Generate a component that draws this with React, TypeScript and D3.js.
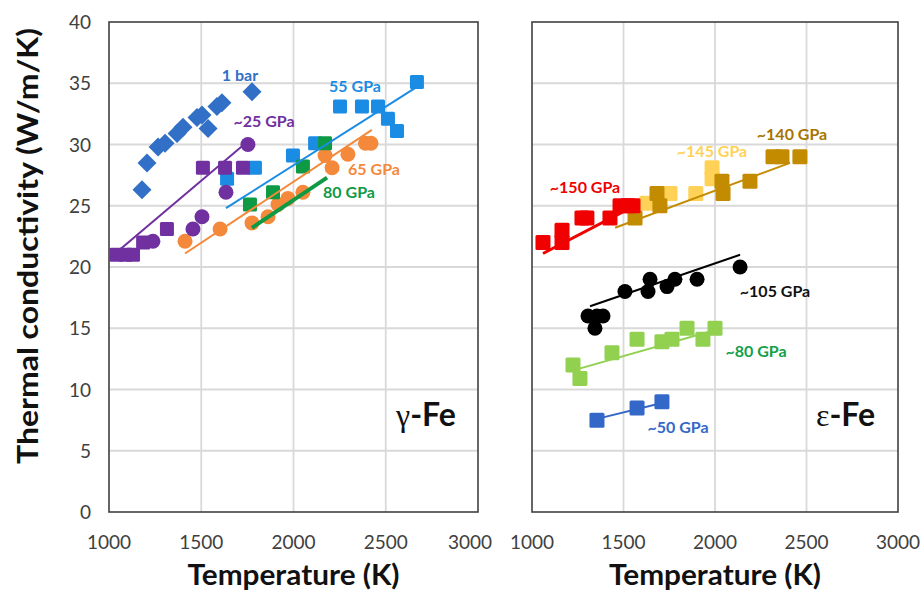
import React from 'react';
import * as d3 from 'd3';

// ---- data (T in K, conductivity in W/m/K) ----
const xTicks = [1000, 1500, 2000, 2500, 3000];
const yTicks = [0, 5, 10, 15, 20, 25, 30, 35, 40];

// gamma-Fe
const oneBar: [number, number][] = [
  [1179, 26.3], [1206, 28.5], [1266, 29.8], [1304, 30.1], [1369, 30.9], [1401, 31.4],
  [1477, 32.2], [1504, 32.4], [1537, 31.3], [1585, 33.1], [1612, 33.4], [1775, 34.3],
];
const gpa25Sq: [number, number][] = [
  [1040, 21], [1090, 21], [1130, 21], [1185, 22], [1314, 23.1],
  [1509, 28.1], [1629, 28.1], [1726, 28.1],
];
const gpa25Ci: [number, number][] = [
  [1238, 22.1], [1455, 23.1], [1504, 24.1], [1634, 26.1], [1753, 30],
];
const gpa55: [number, number][] = [
  [1640, 27.2], [1791, 28.1], [1997, 29.1], [2117, 30.1], [2252, 33.1], [2371, 33.1],
  [2458, 33.1], [2512, 32.1], [2561, 31.1], [2669, 35.1],
];
const gpa65: [number, number][] = [
  [1412, 22.1], [1602, 23.1], [1775, 23.6], [1862, 24.1], [1916, 25.1], [1970, 25.6],
  [2051, 26.1], [2171, 29.1], [2209, 28.1], [2295, 29.2], [2390, 30.1], [2420, 30.1],
];
const gpa80: [number, number][] = [
  [1764, 25.1], [1889, 26.1], [2051, 28.2], [2171, 30.1],
];
const fit25: [number, number][] = [[1010, 20.8], [1748, 30.2]];
const fit55: [number, number][] = [[1634, 24.8], [2669, 34.7]];
const fit65: [number, number][] = [[1412, 21.1], [2425, 31.2]];
const fit80: [number, number][] = [[1775, 23.2], [2182, 27.3]];

// epsilon-Fe
const gpa150: [number, number][] = [
  [1060, 22], [1164, 22], [1164, 23], [1273, 24], [1300, 24], [1426, 24],
  [1481, 25], [1525, 25], [1552, 25],
];
const gpa145: [number, number][] = [
  [1628, 25.2], [1738, 26], [1754, 26], [1895, 26], [1984, 27.2], [1984, 28.1],
];
const gpa140: [number, number][] = [
  [1563, 24], [1683, 26], [1699, 25], [2038, 27], [2044, 26], [2191, 27],
  [2317, 29], [2366, 29], [2464, 29],
];
const gpa105: [number, number][] = [
  [1306, 16], [1344, 15], [1355, 16], [1388, 16], [1508, 18], [1634, 18],
  [1645, 19], [1738, 18.4], [1781, 19], [1902, 19], [2137, 20],
];
const gpa80e: [number, number][] = [
  [1224, 12], [1262, 10.9], [1437, 13], [1574, 14.1], [1710, 13.9], [1765, 14.1],
  [1847, 15], [1934, 14.1], [2000, 15],
];
const gpa50: [number, number][] = [[1355, 7.5], [1574, 8.5], [1710, 9]];
const fit150: [number, number][] = [[1060, 21.1], [1536, 24.8]];
const fit140: [number, number][] = [[1454, 23.2], [2410, 28.5]];
const fit105: [number, number][] = [[1317, 16.8], [2137, 21]];
const fit80e: [number, number][] = [[1235, 11.6], [2011, 14.9]];
const fit50: [number, number][] = [[1355, 7.6], [1710, 8.9]];

const W = 921;
const H = 592;
const top = 22;
const bottom = 512;
const font = 'Lato, "Open Sans", sans-serif';

const y = d3.scaleLinear().domain([0, 40]).range([bottom, top]);
const xL = d3.scaleLinear().domain([1000, 3000]).range([109, 478]);
const xR = d3.scaleLinear().domain([1000, 3000]).range([532, 898]);

type Scale = d3.ScaleLinear<number, number>;

const squares = (data: [number, number][], x: Scale, color: string, s = 14) =>
  data.map((d, i) => (
    <rect key={i} x={x(d[0]) - s / 2} y={y(d[1]) - s / 2} width={s} height={s} rx={1.5} fill={color} />
  ));

const circles = (data: [number, number][], x: Scale, color: string, r = 7.5) =>
  data.map((d, i) => <circle key={i} cx={x(d[0])} cy={y(d[1])} r={r} fill={color} />);

const diamonds = (data: [number, number][], x: Scale, color: string, h = 9.5) =>
  data.map((d, i) => {
    const cx = x(d[0]);
    const cy = y(d[1]);
    return <path key={i} d={`M${cx},${cy - h}L${cx + h},${cy}L${cx},${cy + h}L${cx - h},${cy}Z`} fill={color} />;
  });

const fitLine = (data: [number, number][], x: Scale, color: string, w = 2) => {
  const line = d3.line<[number, number]>().x(d => x(d[0])).y(d => y(d[1]));
  return <path d={line(data) || ''} stroke={color} strokeWidth={w} fill="none" />;
};

const Frame: React.FC<{ x: Scale; title: string }> = ({ x, title }) => {
  const [x0, x1] = x.range();
  return (
    <g>
      {xTicks.slice(1, -1).map(t => (
        <line key={t} x1={x(t)} x2={x(t)} y1={top} y2={bottom} stroke="#d9d9d9" strokeWidth={1.8} />
      ))}
      {yTicks.slice(1, -1).map(t => (
        <line key={t} x1={x0} x2={x1} y1={y(t)} y2={y(t)} stroke="#d9d9d9" strokeWidth={1.8} />
      ))}
      <rect x={x0} y={top} width={x1 - x0} height={bottom - top} fill="none" stroke="#404040" strokeWidth={1.6} />
      {xTicks.map((t, i) => (
        <text key={t} x={x(t) + (x0 < 200 && i === xTicks.length - 1 ? -8 : 0)} y={549}
          textAnchor="middle" fontSize={19} fill="#404040" fontFamily={font}>{t}</text>
      ))}
      <text x={(x0 + x1) / 2} y={585} textAnchor="middle" fontSize={28} fontWeight="bold"
        fill="#111" fontFamily={font} textLength={212} lengthAdjust="spacingAndGlyphs">{title}</text>
    </g>
  );
};

const Label: React.FC<{ x: number; y: number; color: string; text: string }> = ({ x, y: yy, color, text }) => (
  <text x={x} y={yy} textAnchor="middle" fontSize={16} fontWeight="bold" fill={color} fontFamily={font}>{text}</text>
);

const App: React.FC = () => {
  const c1bar = '#3170c6';
  const c25 = '#7030a0';
  const c55 = '#1b8ce3';
  const c65 = '#f5893b';
  const c80 = '#0e9a45';
  const c150 = '#f00000';
  const c145 = '#ffd257';
  const c140 = '#c38b00';
  const c80e = '#92d050';
  const c50 = '#3468c8';

  return (
    <svg width={W} height={H} style={{ position: 'absolute', left: 0, top: 0, background: '#fff' }}>
      {/* y axis */}
      {yTicks.map(t => (
        <text key={t} x={91} y={y(t) + 7} textAnchor="end" fontSize={19} fill="#404040" fontFamily={font}>{t}</text>
      ))}
      <text transform={`translate(38,246) rotate(-90)`} textAnchor="middle"
        fontSize={28} fontWeight="bold" fill="#111" fontFamily={font}
        textLength={436} lengthAdjust="spacingAndGlyphs">Thermal conductivity (W/m/K)</text>

      <Frame x={xL} title="Temperature (K)" />
      <Frame x={xR} title="Temperature (K)" />

      {/* gamma-Fe */}
      <g>
        {squares(gpa55, xL, c55)}
        {circles(gpa65, xL, c65)}
        {squares(gpa80, xL, c80)}
        {squares(gpa25Sq, xL, c25)}
        {circles(gpa25Ci, xL, c25)}
        {diamonds(oneBar, xL, c1bar)}
        {fitLine(fit25, xL, c25)}
        {fitLine(fit55, xL, c55)}
        {fitLine(fit65, xL, c65)}
        {fitLine(fit80, xL, c80, 4)}
        <Label x={240} y={81} color={c1bar} text="1 bar" />
        <Label x={264} y={127} color={c25} text="~25 GPa" />
        <Label x={355} y={92} color={c55} text="55 GPa" />
        <Label x={374} y={175} color={c65} text="65 GPa" />
        <Label x={349} y={198} color={c80} text="80 GPa" />
        <text x={396} y={426} fontSize={32} fill="#111">
          <tspan fontFamily='"Liberation Serif", serif'>γ</tspan>
          <tspan fontFamily={font} fontWeight="bold">-Fe</tspan>
        </text>
      </g>

      {/* epsilon-Fe */}
      <g>
        {squares(gpa145, xR, c145, 15)}
        {squares(gpa140, xR, c140, 15)}
        {squares(gpa150, xR, c150, 15)}
        {circles(gpa105, xR, '#000')}
        {squares(gpa80e, xR, c80e, 15)}
        {squares(gpa50, xR, c50, 15)}
        {fitLine(fit150, xR, c150, 3)}
        {fitLine(fit140, xR, c140, 2)}
        {fitLine(fit105, xR, '#000', 2)}
        {fitLine(fit80e, xR, c80e, 2)}
        {fitLine(fit50, xR, c50, 2)}
        <Label x={585} y={193} color={c150} text="~150 GPa" />
        <Label x={712} y={157} color={c145} text="~145 GPa" />
        <Label x={792} y={140} color="#a87400" text="~140 GPa" />
        <Label x={775} y={297} color="#111" text="~105 GPa" />
        <Label x={756} y={357} color="#12a04a" text="~80 GPa" />
        <Label x={678} y={433} color={c50} text="~50 GPa" />
        <text x={816} y={426} fontSize={32} fill="#111">
          <tspan fontFamily='"Liberation Serif", serif'>ε</tspan>
          <tspan fontFamily={font} fontWeight="bold">-Fe</tspan>
        </text>
      </g>
    </svg>
  );
};

export default App;
